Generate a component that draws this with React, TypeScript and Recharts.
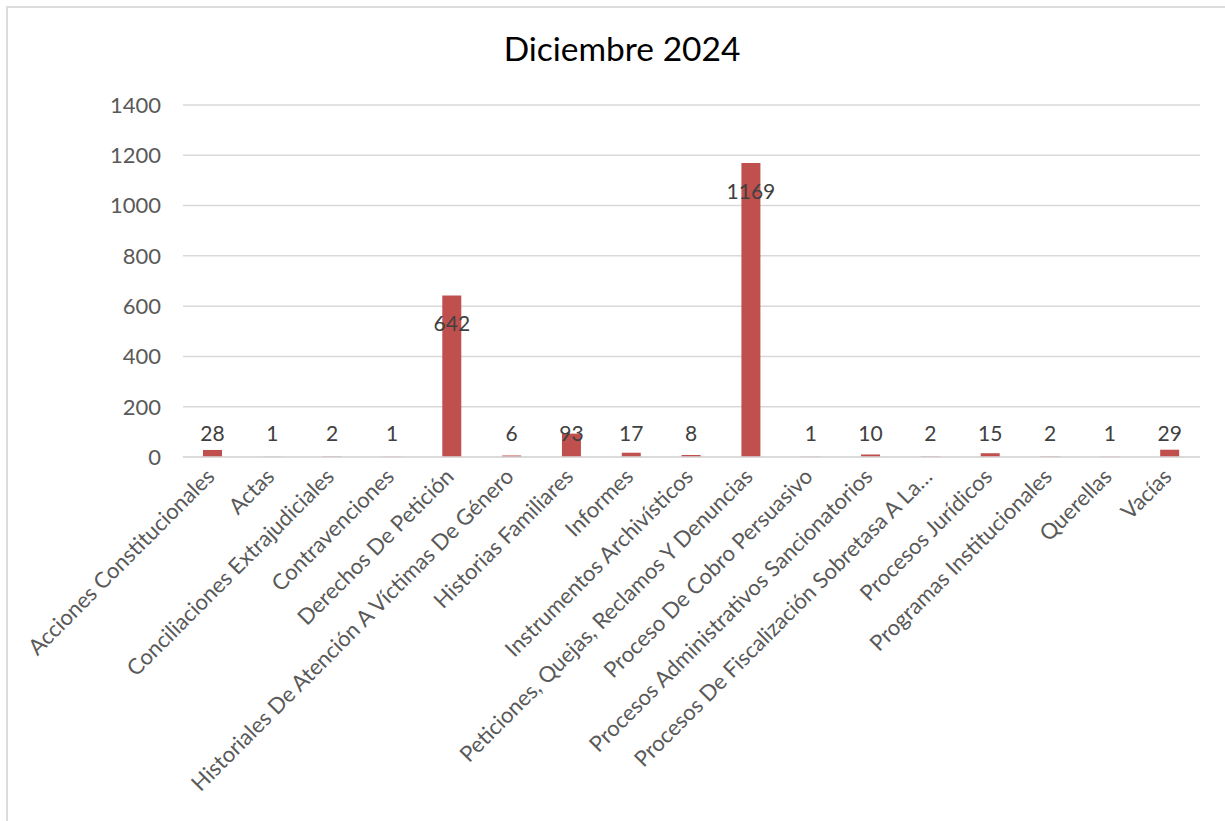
import { BarChart, Bar, XAxis, YAxis, CartesianGrid, LabelList } from "recharts";

const categories = [
  "Acciones Constitucionales",
  "Actas",
  "Conciliaciones Extrajudiciales",
  "Contravenciones",
  "Derechos De Petición",
  "Historiales De Atención A Víctimas De Género",
  "Historias Familiares",
  "Informes",
  "Instrumentos Archivísticos",
  "Peticiones, Quejas, Reclamos Y Denuncias",
  "Proceso De Cobro Persuasivo",
  "Procesos Administrativos Sancionatorios",
  "Procesos De Fiscalización Sobretasa A La…",
  "Procesos Jurídicos",
  "Programas Institucionales",
  "Querellas",
  "Vacías",
];

const counts = [28, 1, 2, 1, 642, 6, 93, 17, 8, 1169, 1, 10, 2, 15, 2, 1, 29];

const yTicks = [0, 200, 400, 600, 800, 1000, 1200, 1400];

const data = categories.map((name, i) => ({ name, value: counts[i] }));

const FONT = "Lato, 'Open Sans', sans-serif";

function CategoryTick(props: any) {
  const { x, y, payload } = props;
  return (
    <g transform={`translate(${x + 3},${y + 13})`}>
      <text
        transform="rotate(-45)"
        textAnchor="end"
        fill="#595959"
        fontSize={22}
        fontFamily={FONT}
      >
        {payload.value}
      </text>
    </g>
  );
}

// labels sit just inside the top of tall bars, but never below the axis band
function ValueLabel(props: any) {
  const { x, y, width, height, value } = props;
  const cy = Math.min(y + 27, y + height - 25);
  return (
    <text
      x={x + width / 2}
      y={cy}
      textAnchor="middle"
      dominantBaseline="central"
      fill="#404040"
      fontSize={21}
      fontFamily={FONT}
    >
      {value}
    </text>
  );
}

export default function App() {
  return (
    <div
      style={{
        position: "absolute",
        left: 0,
        top: 0,
        width: 1225,
        height: 821,
        background: "#fff",
        fontFamily: FONT,
      }}
    >
      <div
        style={{
          position: "absolute",
          left: 6,
          top: 6,
          right: 0,
          bottom: 0,
          borderLeft: "2px solid #dcdcdc",
          borderTop: "2px solid #dcdcdc",
        }}
      />
      <div
        style={{
          position: "absolute",
          left: 0,
          width: 1244,
          top: 28,
          textAlign: "center",
          fontSize: 33.5,
          color: "#000",
        }}
      >
        Diciembre 2024
      </div>
      <div style={{ position: "absolute", left: 0, top: 0 }}>
        <BarChart
          width={1225}
          height={821}
          data={data}
          margin={{ top: 105, right: 25, bottom: 0, left: 0 }}
        >
          <CartesianGrid vertical={false} stroke="#d9d9d9" strokeWidth={1.5} />
          <XAxis
            dataKey="name"
            interval={0}
            height={364}
            axisLine={{ stroke: "#d9d9d9", strokeWidth: 1.5 }}
            tickLine={false}
            tick={<CategoryTick />}
          />
          <YAxis
            width={183}
            domain={[0, 1400]}
            ticks={yTicks}
            axisLine={false}
            tickLine={false}
            tickMargin={16}
            tick={{ fill: "#595959", fontSize: 22, fontFamily: FONT }}
          />
          <Bar dataKey="value" fill="#C0504D" barSize={19} isAnimationActive={false}>
            <LabelList dataKey="value" content={<ValueLabel />} />
          </Bar>
        </BarChart>
      </div>
    </div>
  );
}
